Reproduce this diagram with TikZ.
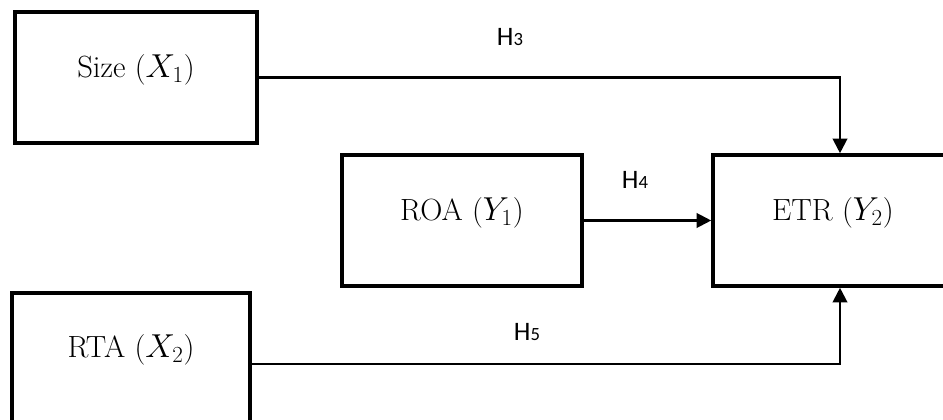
\documentclass[tikz,border=0pt]{standalone}
\usepackage{fontspec}
\newfontfamily\hfont{Carlito}
\usetikzlibrary{arrows.meta}
\begin{document}
\begin{tikzpicture}[x=0.75pt,y=-0.75pt,
  box/.style={draw=black,line width=2.7pt,rectangle,inner sep=0pt,fill=white},
  lbl/.style={font=\fontsize{23}{27}\selectfont,inner sep=0pt},
  hyp/.style={font=\hfont\fontsize{20}{24}\selectfont,inner sep=0pt},
  conn/.style={draw=black,line width=1.6pt,-{Triangle[length=11pt,width=11pt]}}]
\useasboundingbox (0,0) rectangle (943,420);
\clip (0,0) rectangle (943,420);
\fill[white] (0,0) rectangle (943,420);
\node[box,minimum width=181.5pt,minimum height=98.25pt] (size) at (136,77.5) {};
\node[box,minimum width=180pt,minimum height=98.25pt] (roa) at (462,220.5) {};
\node[box,minimum width=190.5pt,minimum height=98.25pt] (etr) at (840,220.5) {};
\node[box,minimum width=178.5pt,minimum height=106.5pt] (rta) at (131,364) {};
\node[lbl] (sizet) at (136,70) {Size ($X_1$)};
\node[lbl] (roat) at (462,213) {ROA ($Y_1$)};
\node[lbl] (etrt) at (833,213) {ETR ($Y_2$)};
\node[lbl] (rtat) at (131,350) {RTA ($X_2$)};
\draw[conn] (size.east) -| (etr.north);
\draw[conn] (roa.east) -- (etr.west);
\draw[conn] (rta.east) -| (etr.south);
\node[hyp] (h3) at (510,37) {H{\fontsize{14}{16}\selectfont 3}};
\node[hyp] (h4) at (635,180) {H{\fontsize{14}{16}\selectfont 4}};
\node[hyp] (h5) at (527,332) {H{\fontsize{14}{16}\selectfont 5}};
\end{tikzpicture}
\end{document}
